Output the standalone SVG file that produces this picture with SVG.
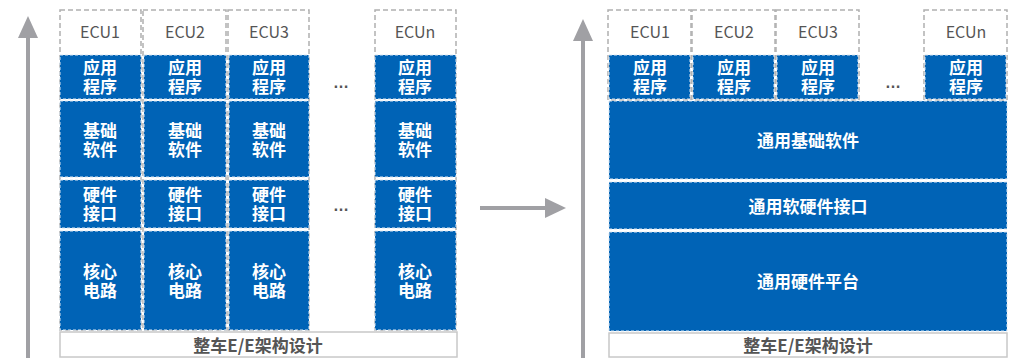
<svg xmlns="http://www.w3.org/2000/svg" width="1019" height="358" viewBox="0 0 1019 358">
<defs>
<style>
.col{fill:none;stroke:#b0b0b0;stroke-width:1.5;stroke-dasharray:5 3}
.blk{fill:#0063b6;stroke:#d9e6f2;stroke-width:1;stroke-dasharray:3 2}
.bt{fill:#fff;font-family:"Noto Sans CJK SC","Noto Sans",sans-serif;font-size:17px;font-weight:600;text-anchor:middle}
.ecu{fill:#555;font-family:"Noto Sans CJK SC","Noto Sans",sans-serif;font-size:16px;text-anchor:middle}
.base{fill:#fff;stroke:#c8c8c8;stroke-width:1.5}
.bot{fill:#555;font-family:"Noto Sans CJK SC","Noto Sans",sans-serif;font-size:17px;font-weight:600;text-anchor:middle}
.dots{fill:#555;font-family:"Liberation Sans",sans-serif;font-size:16px;font-weight:700;text-anchor:middle}
.arr{stroke:#a0a0a4;stroke-width:4;fill:none}
.head{fill:#a0a0a4}
</style>
</defs>
<rect width="1019" height="358" fill="#fff"/>

<g id="connectors">
<line class="arr" x1="28" y1="358" x2="28" y2="34"/>
<polygon class="head" points="28,16 18,38 38,38"/>
<line class="arr" x1="583" y1="358" x2="583" y2="36"/>
<polygon class="head" points="583,19 573,41 593,41"/>
<line class="arr" x1="480" y1="208" x2="548" y2="208"/>
<polygon class="head" points="566,208 545,198 545,218"/>
</g>

<!-- Left diagram -->
<g id="ecu1">
<rect class="col" x="60" y="10" width="81" height="320"/>
<text class="ecu" x="100" y="38">ECU1</text>
<rect class="blk" x="60" y="55" width="81" height="44"/>
<text class="bt" x="100" y="74">应用<tspan x="100" dy="19">程序</tspan></text>
<rect class="blk" x="60" y="101" width="81" height="76"/>
<text class="bt" x="100" y="137">基础<tspan x="100" dy="19">软件</tspan></text>
<rect class="blk" x="60" y="180" width="81" height="48"/>
<text class="bt" x="100" y="201">硬件<tspan x="100" dy="19">接口</tspan></text>
<rect class="blk" x="60" y="231" width="81" height="99"/>
<text class="bt" x="100" y="278">核心<tspan x="100" dy="19">电路</tspan></text>
</g>
<g id="ecu2">
<rect class="col" x="143" y="10" width="83" height="320"/>
<text class="ecu" x="185" y="38">ECU2</text>
<rect class="blk" x="144" y="55" width="82" height="44"/>
<text class="bt" x="185" y="74">应用<tspan x="185" dy="19">程序</tspan></text>
<rect class="blk" x="144" y="101" width="82" height="76"/>
<text class="bt" x="185" y="137">基础<tspan x="185" dy="19">软件</tspan></text>
<rect class="blk" x="144" y="180" width="82" height="48"/>
<text class="bt" x="185" y="201">硬件<tspan x="185" dy="19">接口</tspan></text>
<rect class="blk" x="144" y="231" width="82" height="99"/>
<text class="bt" x="185" y="278">核心<tspan x="185" dy="19">电路</tspan></text>
</g>
<g id="ecu3">
<rect class="col" x="228" y="10" width="81" height="320"/>
<text class="ecu" x="269" y="38">ECU3</text>
<rect class="blk" x="229" y="55" width="80" height="44"/>
<text class="bt" x="269" y="74">应用<tspan x="269" dy="19">程序</tspan></text>
<rect class="blk" x="229" y="101" width="80" height="76"/>
<text class="bt" x="269" y="137">基础<tspan x="269" dy="19">软件</tspan></text>
<rect class="blk" x="229" y="180" width="80" height="48"/>
<text class="bt" x="269" y="201">硬件<tspan x="269" dy="19">接口</tspan></text>
<rect class="blk" x="229" y="231" width="80" height="99"/>
<text class="bt" x="269" y="278">核心<tspan x="269" dy="19">电路</tspan></text>
</g>
<g id="dotsL">
<text class="dots" x="341" y="88">…</text>
<text class="dots" x="341" y="211">…</text>
</g>
<g id="ecun">
<rect class="col" x="375" y="10" width="81" height="320"/>
<text class="ecu" x="415" y="38">ECUn</text>
<rect class="blk" x="375" y="55" width="81" height="44"/>
<text class="bt" x="415" y="74">应用<tspan x="415" dy="19">程序</tspan></text>
<rect class="blk" x="375" y="101" width="81" height="76"/>
<text class="bt" x="415" y="137">基础<tspan x="415" dy="19">软件</tspan></text>
<rect class="blk" x="375" y="180" width="81" height="48"/>
<text class="bt" x="415" y="201">硬件<tspan x="415" dy="19">接口</tspan></text>
<rect class="blk" x="375" y="231" width="81" height="99"/>
<text class="bt" x="415" y="278">核心<tspan x="415" dy="19">电路</tspan></text>
</g>
<g id="baseL">
<rect class="base" x="60" y="332" width="397" height="25"/>
<text class="bot" x="258" y="352">整车E/E架构设计</text>
</g>

<!-- Right diagram -->
<g id="r_ecu1">
<rect class="col" x="608" y="10" width="83" height="90"/>
<text class="ecu" x="650" y="38">ECU1</text>
<rect class="blk" x="609" y="55" width="81" height="44"/>
<text class="bt" x="650" y="74">应用<tspan x="650" dy="19">程序</tspan></text>
</g>
<g id="r_ecu2">
<rect class="col" x="692" y="10" width="83" height="90"/>
<text class="ecu" x="734" y="38">ECU2</text>
<rect class="blk" x="693" y="55" width="81" height="44"/>
<text class="bt" x="734" y="74">应用<tspan x="734" dy="19">程序</tspan></text>
</g>
<g id="r_ecu3">
<rect class="col" x="776" y="10" width="83" height="90"/>
<text class="ecu" x="818" y="38">ECU3</text>
<rect class="blk" x="777" y="55" width="81" height="44"/>
<text class="bt" x="818" y="74">应用<tspan x="818" dy="19">程序</tspan></text>
</g>
<g id="dotsR">
<text class="dots" x="893" y="88">…</text>
</g>
<g id="r_ecun">
<rect class="col" x="924" y="10" width="83" height="90"/>
<text class="ecu" x="966" y="38">ECUn</text>
<rect class="blk" x="925" y="55" width="81" height="44"/>
<text class="bt" x="966" y="74">应用<tspan x="966" dy="19">程序</tspan></text>
</g>
<g id="common_sw">
<rect class="blk" x="609" y="101" width="398" height="78"/>
<text class="bt" x="808" y="147">通用基础软件</text>
</g>
<g id="common_if">
<rect class="blk" x="609" y="182" width="398" height="47"/>
<text class="bt" x="808" y="213">通用软硬件接口</text>
</g>
<g id="common_hw">
<rect class="blk" x="609" y="232" width="398" height="99"/>
<text class="bt" x="808" y="288">通用硬件平台</text>
</g>
<g id="baseR">
<rect class="base" x="609" y="333" width="398" height="24"/>
<text class="bot" x="808" y="352">整车E/E架构设计</text>
</g>
</svg>
